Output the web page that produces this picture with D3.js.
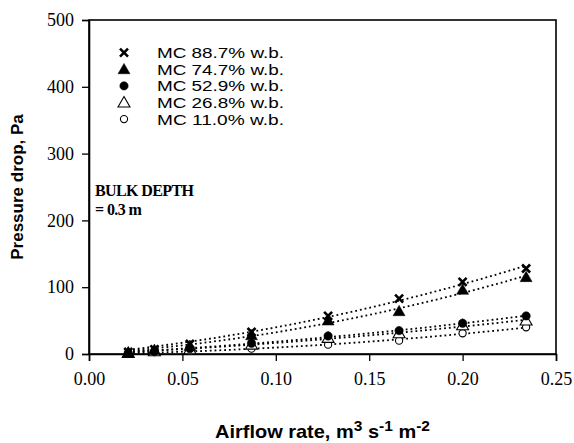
<!DOCTYPE html>
<html>
<head>
<meta charset="utf-8">
<script src="https://cdn.jsdelivr.net/npm/d3@7"></script>
<style>
  html, body { margin: 0; padding: 0; background: #fff; }
  svg { display: block; }
</style>
</head>
<body>
<svg id="chart" width="574" height="443"></svg>
<script>
// Airflow rate (m3 s-1 m-2) at which pressure drop was measured
const airflow = [0.021, 0.035, 0.054, 0.087, 0.128, 0.166, 0.200, 0.234];

// Pressure drop (Pa) for each moisture content
const mc887 = [3, 7, 15, 33, 57, 83, 108, 128];
const mc747 = [2, 6, 12, 28, 50, 64, 96, 115];
const mc529 = [1.5, 4, 8, 16, 27, 35, 46, 57];
const mc268 = [1.5, 4, 7, 14, 24, 31, 43, 50];
const mc110 = [1, 3, 5, 8, 14, 20, 31, 40];

const seriesNames = ["MC 88.7% w.b.", "MC 74.7% w.b.", "MC 52.9% w.b.", "MC 26.8% w.b.", "MC 11.0% w.b."];
const markerKinds = ["cross", "triFilled", "dotFilled", "triOpen", "dotOpen"];

const xTicks = [0.00, 0.05, 0.10, 0.15, 0.20, 0.25];
const yTicks = [0, 100, 200, 300, 400, 500];

const series = [mc887, mc747, mc529, mc268, mc110].map((vals, i) => ({
  name: seriesNames[i], kind: markerKinds[i],
  points: airflow.map((q, j) => ({ q, p: vals[j] }))
}));

const SERIF = "'Liberation Serif', 'Times New Roman', Times, serif";
const SANS = "'Liberation Sans', Arial, Helvetica, sans-serif";

const svg = d3.select("#chart");
const plot = { left: 89, right: 556, top: 20, bottom: 354 };

const x = d3.scaleLinear().domain([0, 0.25]).range([plot.left, plot.right]);
const y = d3.scaleLinear().domain([0, 500]).range([plot.bottom, plot.top]);

// Frame
svg.append("rect")
  .attr("x", plot.left).attr("y", plot.top)
  .attr("width", plot.right - plot.left).attr("height", plot.bottom - plot.top)
  .attr("fill", "none").attr("stroke", "#000").attr("stroke-width", 1.6);

// Axes
const xAxis = svg.append("g")
  .attr("transform", `translate(0,${plot.bottom})`)
  .call(d3.axisBottom(x).tickValues(xTicks).tickFormat(d3.format(".2f")).tickSizeOuter(0).tickSize(7).tickPadding(11));
const yAxis = svg.append("g")
  .attr("transform", `translate(${plot.left},0)`)
  .call(d3.axisLeft(y).tickValues(yTicks).tickFormat(d3.format("d")).tickSizeOuter(0).tickSize(7).tickPadding(8));

[xAxis, yAxis].forEach(g => {
  g.attr("font-family", SERIF).attr("font-size", 18);
  g.select(".domain").attr("stroke", "#000").attr("stroke-width", 1.6);
  g.selectAll(".tick line").attr("stroke", "#000").attr("stroke-width", 1.3);
  g.selectAll(".tick text")
    .attr("fill", "#000")
    .attr("font-family", SERIF)
    .attr("font-size", 18)
    .style("font-family", SERIF)
    .style("font-size", "18px");
});

// Quadratic trend through origin, P = aQ + bQ^2, by least squares
function fitQuadratic(pts) {
  let s2 = 0, s3 = 0, s4 = 0, t1 = 0, t2 = 0;
  pts.forEach(({ q, p }) => {
    s2 += q * q; s3 += q ** 3; s4 += q ** 4;
    t1 += p * q; t2 += p * q * q;
  });
  const det = s2 * s4 - s3 * s3;
  const a = (t1 * s4 - t2 * s3) / det;
  const b = (s2 * t2 - s3 * t1) / det;
  return q => a * q + b * q * q;
}

const line = d3.line().x(d => x(d.q)).y(d => y(d.p));
const qMin = d3.min(airflow), qMax = d3.max(airflow);
const samples = d3.range(0, 41).map(i => qMin + (qMax - qMin) * i / 40);

series.forEach(s => {
  const f = fitQuadratic(s.points);
  svg.append("path")
    .datum(samples.map(q => ({ q, p: f(q) })))
    .attr("d", line)
    .attr("fill", "none")
    .attr("stroke", "#000")
    .attr("stroke-width", 1.8)
    .attr("stroke-dasharray", "1.8,3");
});

// Marker drawing
function drawMarker(g, kind, cx, cy) {
  if (kind === "cross") {
    const r = 4;
    g.append("path")
      .attr("d", `M${cx - r},${cy - r}L${cx + r},${cy + r}M${cx - r},${cy + r}L${cx + r},${cy - r}`)
      .attr("stroke", "#000").attr("stroke-width", 2.6).attr("fill", "none");
  } else if (kind === "triFilled" || kind === "triOpen") {
    g.append("path")
      .attr("d", d3.symbol(d3.symbolTriangle, 62)())
      .attr("transform", `translate(${cx},${cy + 1})`)
      .attr("fill", kind === "triFilled" ? "#000" : "#fff")
      .attr("stroke", "#000").attr("stroke-width", kind === "triFilled" ? 0.5 : 1.1);
  } else {
    g.append("circle")
      .attr("cx", cx).attr("cy", cy)
      .attr("r", kind === "dotFilled" ? 4.2 : 3.6)
      .attr("fill", kind === "dotFilled" ? "#000" : "#fff")
      .attr("stroke", "#000").attr("stroke-width", kind === "dotFilled" ? 0.5 : 1.1);
  }
}

const markers = svg.append("g");
series.slice().reverse().forEach(s => {
  s.points.forEach(d => drawMarker(markers, s.kind, x(d.q), y(d.p)));
});

// Legend
const legend = svg.append("g");
series.forEach((s, i) => {
  const cy = 52.7 + i * 16.6;
  drawMarker(legend, s.kind, 124, cy);
  legend.append("text")
    .attr("x", 157).attr("y", cy + 5.5)
    .attr("textLength", 127)
    .attr("lengthAdjust", "spacingAndGlyphs")
    .style("font-family", SANS)
    .style("font-size", "14.4px")
    .text(s.name);
});

// Bed depth note
const note = svg.append("g")
  .style("font-family", SERIF)
  .style("font-weight", "bold")
  .style("font-size", "16px")
  .style("letter-spacing", "-0.6px");
note.append("text").attr("x", 95).attr("y", 196).text("BULK DEPTH");
note.append("text").attr("x", 95).attr("y", 215).text("= 0.3 m");

// Axis titles
svg.append("text")
  .attr("transform", `translate(23,${(plot.top + plot.bottom) / 2}) rotate(-90)`)
  .attr("text-anchor", "middle")
  .style("font-family", SANS)
  .style("font-weight", "bold")
  .style("font-size", "17px")
  .text("Pressure drop, Pa");

const xt = svg.append("g")
  .attr("transform", `translate(${(plot.left + plot.right) / 2},438) scale(1.11,1)`)
  .append("text")
  .attr("text-anchor", "middle")
  .style("font-family", SANS)
  .style("font-weight", "bold")
  .style("font-size", "18px");
xt.append("tspan").text("Airflow rate, m");
xt.append("tspan").attr("dy", -7).style("font-size", "14px").text("3");
xt.append("tspan").attr("dy", 7).text(" s");
xt.append("tspan").attr("dy", -7).style("font-size", "14px").text("-1");
xt.append("tspan").attr("dy", 7).text(" m");
xt.append("tspan").attr("dy", -7).style("font-size", "14px").text("-2");
</script>
</body>
</html>
